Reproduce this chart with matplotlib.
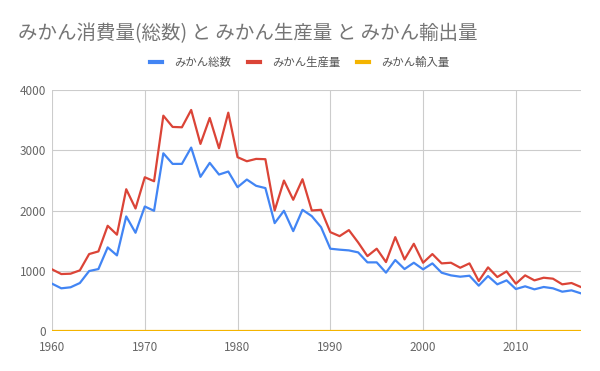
import matplotlib
matplotlib.use('Agg')
import matplotlib.pyplot as plt

plt.rcParams['font.family'] = ['Noto Sans CJK JP', 'DejaVu Sans']

years = list(range(1960, 2018))

# みかん総数 (消費量)
total = [785, 708, 725, 796, 995, 1028, 1388, 1255, 1902, 1631,
         2067, 1996, 2951, 2775, 2775, 3046, 2560, 2792, 2598, 2648,
         2388, 2515, 2411, 2373, 1791, 1996, 1658, 2012, 1907, 1724,
         1366, 1350, 1338, 1305, 1139, 1139, 968, 1178, 1028, 1133,
         1023, 1122, 967, 923, 901, 917, 752, 912, 774, 840,
         696, 741, 691, 730, 708, 652, 674, 625]

# みかん生産量
production = [1023, 945, 951, 1006, 1277, 1321, 1747, 1599, 2354, 2034,
              2553, 2487, 3576, 3389, 3383, 3671, 3107, 3538, 3035, 3626,
              2886, 2819, 2858, 2853, 2001, 2498, 2179, 2520, 2001, 2012,
              1641, 1575, 1675, 1470, 1243, 1366, 1144, 1558, 1188, 1448,
              1133, 1277, 1122, 1133, 1050, 1122, 829, 1056, 895, 989,
              785, 923, 840, 884, 868, 774, 796, 730]

# みかん輸入量
imports = [0] * len(years)

title = 'みかん消費量(総数) と みかん生産量 と みかん輸出量'
labels = ['みかん総数', 'みかん生産量', 'みかん輸入量']
colors = ['#4285F4', '#DB4437', '#F4B400']
yticks = [0, 1000, 2000, 3000, 4000]
xticks = [1960, 1970, 1980, 1990, 2000, 2010]

fig = plt.figure(figsize=(6, 3.71), dpi=100)
ax = fig.add_axes([0.0867, 0.108, 0.8813, 0.649])

for series, lab, col in zip([total, production, imports], labels, colors):
    ax.plot(years, series, color=col, lw=1.6, label=lab, zorder=3)

ax.set_xlim(1960, 2017)
ax.set_ylim(0, 4000)
ax.set_xticks(xticks)
ax.set_yticks(yticks)
ax.grid(True, color='#cccccc', lw=0.8)
ax.set_axisbelow(True)
for s in ax.spines.values():
    s.set_visible(False)
ax.tick_params(length=0, labelsize=8.5, labelcolor='#666666', pad=4)
ax.tick_params(axis='x', pad=7)

fig.text(0.03, 0.91, title, fontsize=14, color='#757575', va='center', ha='left')
fig.legend(loc='center', bbox_to_anchor=(0.5, 0.832), ncol=3, frameon=False,
           fontsize=8.2, labelcolor='#555555', handlelength=1.0, handletextpad=1.1,
           columnspacing=1.5, handleheight=0.5)
for h in fig.legends[0].get_lines():
    h.set_linewidth(3)

fig.savefig('out.png', dpi=100)
